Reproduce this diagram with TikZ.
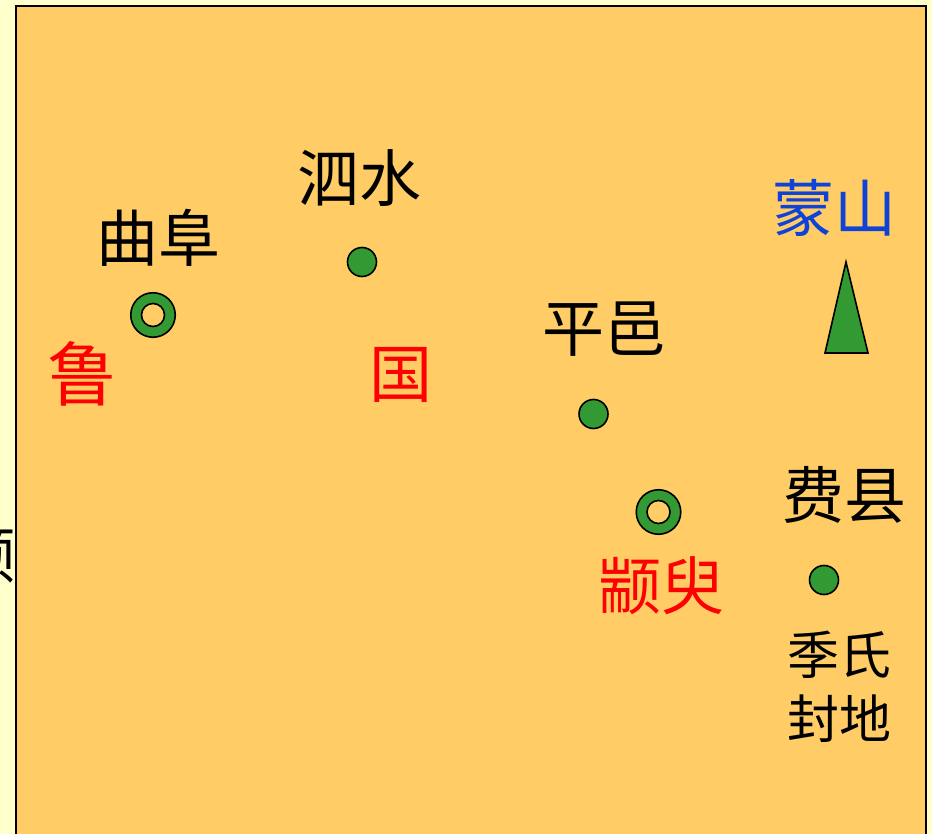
\documentclass[tikz,border=0pt]{standalone}
\usepackage{fontspec}
\newfontfamily\cjk{Noto Sans CJK SC}
\definecolor{paper}{HTML}{FFFFCC}
\definecolor{land}{HTML}{FFCC66}
\definecolor{mark}{HTML}{339933}
\definecolor{mountain}{HTML}{0F43D8}
\tikzset{
  label text/.style={font=\cjk\fontsize{62}{66}\selectfont,inner sep=0pt,text=black},
  small text/.style={label text,font=\cjk\fontsize{52}{64}\selectfont,align=center},
  state text/.style={label text,text=red,font=\cjk\fontsize{63}{66}\selectfont},
  town/.style={circle,draw=black,line width=1.6pt,fill=mark,minimum size=29pt,inner sep=0pt},
  ring outer/.style={circle,draw=black,line width=1.6pt,fill=mark,minimum size=44.5pt,inner sep=0pt},
  ring inner/.style={circle,draw=black,line width=1.6pt,fill=land,minimum size=23pt,inner sep=0pt},
}
\begin{document}
\begin{tikzpicture}[x=1pt,y=-1pt]
\useasboundingbox (0,0) rectangle (932,834);
\clip (0,0) rectangle (932,834);
\fill[paper] (0,0) rectangle (932,834);
\node[label text,anchor=east] (cut) at (16,555) {颛};
\fill[land] (16,6) rectangle (926,840);
\draw[black,line width=2pt] (16,840) -- (16,6) -- (926,6) -- (926,840);
\node[label text] (qufu) at (158,238) {曲阜};
\node[label text] (sishui) at (359,178) {泗水};
\node[label text] (pingyi) at (604,329) {平邑};
\node[label text] (feixian) at (844,495) {费县};
\node[label text,text=mountain] (mengshan) at (834,208) {蒙山};
\node[state text,font=\cjk\fontsize{70}{72}\selectfont] (lu) at (82,374) {鲁};
\node[state text] (guo) at (401,375) {国};
\node[state text] (zhuanyu) at (661,586) {颛臾};
\node[small text] (jishi) at (839,687) {季氏\\封地};
\node[town] (dsishui) at (362,262) {};
\node[town] (dpingyi) at (593.5,414) {};
\node[town] (dfei) at (824,580) {};
\node[ring outer] (cqufu) at (153,315) {};
\node[ring inner] (iqufu) at (153,315) {};
\node[ring outer] (czhuan) at (658.5,512) {};
\node[ring inner] (izhuan) at (658.5,512) {};
\draw[black,line width=1.6pt,fill=mark,line join=miter] (846,262) -- (868,353) -- (825,353) -- cycle;
\end{tikzpicture}
\end{document}
